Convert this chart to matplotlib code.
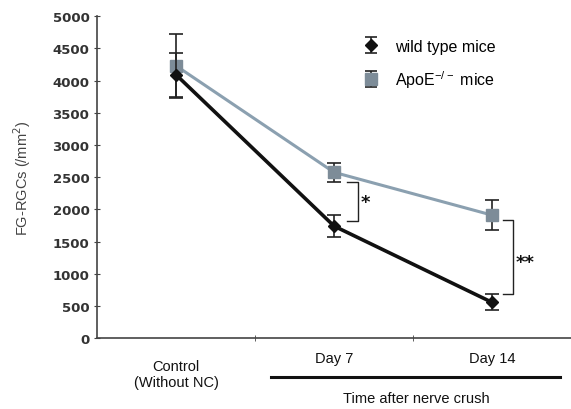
import matplotlib; matplotlib.use("Agg")
import matplotlib.pyplot as plt
import numpy as np

groups = ["Control\n(Without NC)", "Day 7", "Day 14"]
wt_mean = [4090, 1740, 555]
wt_err = [340, 165, 125]
apo_mean = [4230, 2575, 1910]
apo_err = [500, 145, 235]
yticks = np.arange(0, 5001, 500)

BLACK = "#111111"
APO_LINE = "#8ba0b0"
APO_MARK = "#7d8c98"
TXT = "#333333"

fig = plt.figure(figsize=(5.71, 4.10), dpi=100)
ax = fig.add_axes([0.170, 0.173, 0.83, 0.785])
x = np.arange(len(groups))

ax.errorbar(x, apo_mean, yerr=apo_err, color=APO_LINE, lw=2.2, marker="s", ms=9,
            mfc=APO_MARK, mec=APO_MARK, ecolor="#222222", elinewidth=1.2, capsize=5,
            capthick=1.2, zorder=2)
ax.errorbar(x, wt_mean, yerr=wt_err, color=BLACK, lw=2.6, marker="D", ms=6,
            mfc=BLACK, mec=BLACK, ecolor="#222222", elinewidth=1.2, capsize=5,
            capthick=1.2, zorder=3)

# legend proxies: marker + error bar only
h_wt = ax.errorbar([np.nan], [np.nan], yerr=[1], ls="none", marker="D", ms=6, mfc=BLACK,
                   mec=BLACK, ecolor="#222222", elinewidth=1.2, capsize=4, capthick=1.2)
h_apo = ax.errorbar([np.nan], [np.nan], yerr=[1], ls="none", marker="s", ms=9, mfc=APO_MARK,
                    mec=APO_MARK, ecolor="#222222", elinewidth=1.2, capsize=4, capthick=1.2)

# significance brackets
def bracket(x0, x1, ytop, ybot, txt, tx, ty):
    ax.plot([x0, x1, x1, x0], [ytop, ytop, ybot, ybot], color="#222222", lw=1)
    ax.text(tx, ty, txt, fontsize=13, fontweight="bold", color=BLACK, va="center")

bracket(1.08, 1.15, 2420, 1815, "*", 1.17, 2120)
bracket(2.07, 2.13, 1830, 685, "**", 2.15, 1180)

ax.set_xlim(-0.5, 2.5)
ax.set_ylim(0, 5000)
ax.set_yticks(yticks)
ax.set_yticklabels([str(v) for v in yticks], fontsize=9.5, fontweight="bold", color=TXT)
ax.set_xticks(x)
ax.set_xticklabels([])
ax.tick_params(axis="x", which="major", length=0)
ax.set_xticks([0.5, 1.5], minor=True)
ax.tick_params(axis="x", which="minor", length=4, direction="inout", color="#444444")
ax.tick_params(axis="y", length=4, direction="inout", color="#444444")
for s in ["top", "right"]:
    ax.spines[s].set_visible(False)
for s in ["left", "bottom"]:
    ax.spines[s].set_color("#444444")
    ax.spines[s].set_linewidth(1.2)

# category labels
ax.text(x[0], -560, groups[0], ha="center", va="center", fontsize=10.5, color=BLACK,
        family="Liberation Sans", linespacing=1.25)
for xi, g in zip(x[1:], groups[1:]):
    ax.text(xi, -310, g, ha="center", va="center", fontsize=10.5, color=BLACK,
            family="Liberation Sans")

ax.set_ylabel("FG-RGCs (/mm$^2$)", fontsize=10.5, color="#444444", family="Liberation Sans",
              labelpad=14)

# underline for time after nerve crush
ax.plot([0.6, 2.43], [-600, -600], color=BLACK, lw=2.2, clip_on=False)
ax.text(1.52, -930, "Time after nerve crush", ha="center", va="center", fontsize=10.5,
        color=BLACK, family="Liberation Sans")

ax.legend([h_wt, h_apo], ["wild type mice", "ApoE$^{\\mathregular{-/-}}$ mice"],
          loc="upper left", bbox_to_anchor=(0.53, 0.975), frameon=False,
          handlelength=1.0, handletextpad=1.0, labelspacing=0.9,
          prop={"family": "Liberation Sans", "size": 11.5})

fig.savefig("out.png", dpi=100)
